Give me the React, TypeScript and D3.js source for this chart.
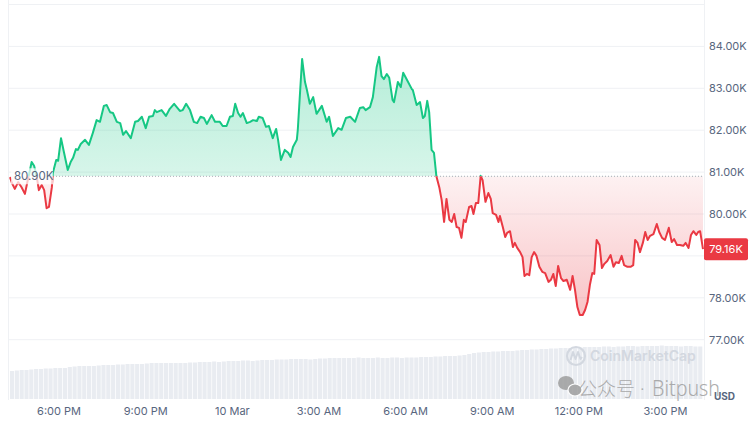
import React from "react";
import * as d3 from "d3";

// ---- Data ----
const startTime = new Date(2025, 2, 9, 16, 18);
const minutes = [
  0,4,10,17,24,31,37,45,50,55,
  60,66,71,76,81,87,89,96,100,106,
  112,120,126,131,137,141,147,156,164,172,
  180,187,195,201,208,214,222,229,235,241,
  251,260,266,274,282,289,297,301,305,315,
  324,332,341,353,359,366,374,382,389,396,
  403,409,419,426,436,442,450,457,463,468,
  474,479,484,492,499,505,513,517,525,532,
  538,546,553,557,563,571,578,583,588,596,
  598,603,607,613,617,623,630,637,648,658,
  663,671,682,689,698,707,717,727,734,739,
  748,754,762,767,772,777,783,788,795,798,
  806,812,817,825,835,837,845,852,858,862,
  867,871,876,881,886,892,897,902,907,913,
  918,923,928,933,938,943,947,954,959,963,
  968,973,978,982,988,994,999,1003,1010,1015,
  1018,1024,1029,1033,1039,1045,1049,1054,1060,1065,
  1069,1074,1079,1084,1089,1094,1100,1106,1112,1119,
  1124,1129,1134,1139,1145,1150,1157,1164,1169,1174,
  1179,1184,1190,1195,1200,1205,1210,1214,1219,1225,
  1230,1235,1241,1248,1254,1259,1265,1271,1276,1283,
  1290,1295,1299,1304,1309,1315,1320,1325,1330,1337,
  1344,1349,1355,1361,1369,1375,1380,1386,1392,1399,
  1404,1410,1415,1420,1426,1430,1434,1440,
];
// price in thousands USD
const prices = [
  80.88,80.74,80.60,80.76,80.64,80.48,80.81,81.24,81.15,80.93,
  80.57,80.69,80.57,80.14,80.17,80.64,80.98,81.29,81.27,81.81,
  81.48,81.05,81.24,81.34,81.55,81.53,81.67,81.77,81.65,81.93,
  82.24,82.20,82.58,82.60,82.43,82.41,82.20,82.17,81.89,81.98,
  81.81,82.20,82.22,82.32,82.05,82.32,82.34,82.48,82.43,82.48,
  82.34,82.51,82.63,82.46,82.48,82.63,82.48,82.20,82.17,82.32,
  82.29,82.15,82.36,82.20,82.20,82.10,82.10,82.32,82.34,82.63,
  82.41,82.32,82.41,82.17,82.20,82.24,82.22,82.32,82.29,82.08,
  82.10,81.81,82.03,81.77,81.29,81.53,81.46,81.36,81.60,81.77,
  82.01,82.96,83.70,83.15,82.96,82.63,82.79,82.39,82.58,82.20,
  82.32,81.86,82.05,82.01,82.29,82.32,82.20,82.53,82.55,82.48,
  82.55,82.79,83.51,83.75,83.29,83.22,83.34,83.25,82.72,82.67,
  83.15,83.03,83.37,83.20,82.98,82.96,82.60,82.67,82.29,82.34,
  82.70,82.43,81.53,81.46,80.90,80.64,80.33,79.81,80.36,79.86,
  79.81,80.00,79.69,79.67,79.43,79.86,79.81,80.17,80.19,80.00,
  80.26,80.26,80.91,80.81,80.29,80.50,80.36,80.02,79.98,79.81,
  79.95,79.69,79.45,79.55,79.59,79.21,79.31,79.19,79.09,78.97,
  78.52,78.57,78.54,78.97,79.09,79.00,78.74,78.62,78.59,78.38,
  78.43,78.57,78.28,78.76,78.47,78.40,78.43,78.19,78.52,78.19,
  77.78,77.59,77.59,77.71,77.90,78.31,78.59,78.57,79.38,79.26,
  78.71,78.81,78.88,79.02,78.74,78.85,78.83,79.00,78.78,78.74,
  78.74,78.78,79.38,79.31,79.09,79.31,79.57,79.38,79.48,79.52,
  79.76,79.57,79.43,79.38,79.67,79.33,79.40,79.26,79.26,79.24,
  79.31,79.19,79.50,79.59,79.50,79.57,79.59,79.16,
];
// 24h volume, 10-minute bars (billions USD)
const volumes = [
  28,28.5,29,29,29.5,30,30,30.5,30.5,
  31,31,31,32,32.5,33,33,33,
  33,33.5,34,34,34,34.5,34.5,35,
  35,35,35,35.5,36,36,36,36,36,36,36,
  36,36.5,36.5,37,37,37,37.5,37,37.5,38,38,38,38.5,38.5,38,38.5,39,39,39,39.5,39.5,39.5,40,40,40,
  40,39.5,40,40.5,40.5,41,41,41,41,41,41,41.5,41,41,41,41.5,41,41,41.5,41.5,41,41.5,41.5,
  41.5,42,42,42,42.5,42.5,43,43,43,43.5,44,45,46,46.5,
  47,47,47.5,47.5,48,48,48,48.5,49,49,49.5,49.5,50,
  50,50.5,50.5,51,51,51,51.5,51.5,52,52,52,52,52.5,52.5,52,52.5,52.5,53,53,52.5,53,53,53,53,53.5,53,53,53,52.5,53,53,52.5,52.5,
];
const openPrice = 80.9;
const lastPrice = 79.16;
const yTicks = [77, 78, 80, 81, 82, 83, 84];
const gridValues = [77, 78, 79, 80, 81, 82, 83, 84, 85];
const xTickHours = [18, 21, 24, 27, 30, 33, 36, 39];

const W = 754;
const H = 421;
const GREEN = "#16c784";
const RED = "#ea3943";
const AXIS = "#58667e";
const FONT = "Inter, 'Noto Sans', sans-serif";

export default function App() {
  const n = Math.min(minutes.length, prices.length);
  const data = d3.range(n).map((i) => ({
    t: new Date(startTime.getTime() + minutes[i] * 60000),
    p: prices[i],
  }));
  const endTime = new Date(startTime.getTime() + 1440 * 60000);
  const x = d3.scaleTime().domain([startTime, endTime]).range([10, 703]);
  const y = d3.scaleLinear().domain([77, 85]).range([339.7, 4.5]);
  const baseY = y(openPrice);

  const line = d3
    .line<{ t: Date; p: number }>()
    .x((d) => x(d.t))
    .y((d) => y(d.p));
  const area = d3
    .area<{ t: Date; p: number }>()
    .x((d) => x(d.t))
    .y0(baseY)
    .y1((d) => y(d.p));

  const maxP = d3.max(data, (d) => d.p) as number;
  const minP = d3.min(data, (d) => d.p) as number;

  const vStep = 1440 / volumes.length;
  const vy = d3.scaleLinear().domain([0, 60]).range([399, 339]);

  const day0 = new Date(2025, 2, 9, 0, 0);
  const fmtTime = d3.timeFormat("%-I:%M %p");
  const fmtDay = d3.timeFormat("%-d %b");
  const xTicks = xTickHours.map((h) => new Date(day0.getTime() + h * 3600000));

  return (
    <svg
      width={W}
      height={H}
      style={{ position: "absolute", left: 0, top: 0, background: "#fff" }}
      fontFamily={FONT}
    >
      <defs>
        <clipPath id="above">
          <rect x={0} y={0} width={W} height={baseY} />
        </clipPath>
        <clipPath id="below">
          <rect x={0} y={baseY} width={W} height={H - baseY} />
        </clipPath>
        <linearGradient id="gGreen" gradientUnits="userSpaceOnUse" x1={0} x2={0} y1={y(maxP)} y2={baseY}>
          <stop offset="0" stopColor={GREEN} stopOpacity={0.32} />
          <stop offset="1" stopColor={GREEN} stopOpacity={0.17} />
        </linearGradient>
        <linearGradient id="gRed" gradientUnits="userSpaceOnUse" x1={0} x2={0} y1={baseY} y2={y(minP)}>
          <stop offset="0" stopColor={RED} stopOpacity={0.07} />
          <stop offset="1" stopColor={RED} stopOpacity={0.3} />
        </linearGradient>
      </defs>

      {/* grid */}
      {gridValues.map((v) => (
        <line key={v} x1={8} x2={705} y1={y(v)} y2={y(v)} stroke="#eff1f4" strokeWidth={1} />
      ))}
      <line x1={8.5} x2={8.5} y1={0} y2={400} stroke="#eff1f4" />
      <line x1={704.5} x2={704.5} y1={0} y2={400} stroke="#eff1f4" />

      {/* volume bars */}
      {volumes.map((v, i) => {
        const t0 = new Date(startTime.getTime() + i * vStep * 60000);
        const t1 = new Date(startTime.getTime() + (i + 1) * vStep * 60000);
        const x0 = x(t0);
        const x1 = x(t1);
        return (
          <rect key={i} x={x0} y={vy(v)} width={Math.max(0.5, x1 - x0 - 0.7)} height={vy(0) - vy(v)} fill="#e9ecf1" />
        );
      })}

      {/* areas */}
      <path d={area(data) || ""} fill="url(#gGreen)" clipPath="url(#above)" />
      <path d={area(data) || ""} fill="url(#gRed)" clipPath="url(#below)" />

      {/* baseline */}
      <line x1={53} x2={703} y1={baseY} y2={baseY} stroke="#a7acb5" strokeWidth={1} strokeDasharray="1 2" />

      {/* lines */}
      <path d={line(data) || ""} fill="none" stroke={GREEN} strokeWidth={2} strokeLinejoin="round" clipPath="url(#above)" />
      <path d={line(data) || ""} fill="none" stroke={RED} strokeWidth={2} strokeLinejoin="round" clipPath="url(#below)" />

      {/* open label */}
      <rect x={11} y={baseY - 8} width={42} height={16} fill="#fff" opacity={0.72} />
      <text x={14} y={baseY + 4} fontSize={11.5} fill={AXIS}>
        {openPrice.toFixed(2)}K
      </text>

      {/* y axis labels */}
      {yTicks.map((v) => (
        <text key={v} x={709} y={y(v) + 4} fontSize={11} fill={AXIS}>
          {v.toFixed(2)}K
        </text>
      ))}

      {/* last price badge */}
      <rect x={704} y={y(lastPrice) - 11} width={44} height={22} rx={2} fill={RED} />
      <text x={726} y={y(lastPrice) + 4} fontSize={11} fill="#fff" textAnchor="middle">
        {lastPrice.toFixed(2)}K
      </text>

      {/* x axis labels */}
      {xTicks.map((t, i) => (
        <text key={i} x={x(t)} y={415} fontSize={11} fill={AXIS} textAnchor="middle">
          {t.getHours() === 0 ? fmtDay(t) : fmtTime(t)}
        </text>
      ))}

      {/* watermark: CoinMarketCap */}
      <g>
        <circle cx={576} cy={356} r={9} fill="none" stroke="#d3d8e0" strokeWidth={2.2} />
        <path d="M570.5,360 L573,352 L575.5,359 L578,352 L580.5,359 L582,357" fill="none" stroke="#d3d8e0" strokeWidth={2} strokeLinejoin="round" />
        <text x={590} y={361} fontSize={14} fontWeight={600} fill="#d3d8e0">
          CoinMarketCap
        </text>
      </g>

      {/* USD */}
      <text x={714} y={400} fontSize={10} fontWeight={700} fill={AXIS}>
        USD
      </text>

      {/* watermark: WeChat */}
      <g opacity={0.8} fill="#999">
        <ellipse cx={566} cy={383} rx={8} ry={7} />
        <ellipse cx={575} cy={390} rx={7} ry={6} stroke="#fff" strokeWidth={1.2} />
        <text x={578} y={396} fontSize={19} fontFamily="'Noto Sans CJK SC', sans-serif" fontWeight={300}>
          公众号
        </text>
        <text x={640} y={395} fontSize={19} fontFamily="'Noto Sans', sans-serif" fontWeight={300}>
          ·
        </text>
        <text x={652} y={396} fontSize={21} fontFamily="'Noto Sans', sans-serif" fontWeight={300} textLength={68} lengthAdjust="spacingAndGlyphs">
          Bitpush
        </text>
      </g>
    </svg>
  );
}
